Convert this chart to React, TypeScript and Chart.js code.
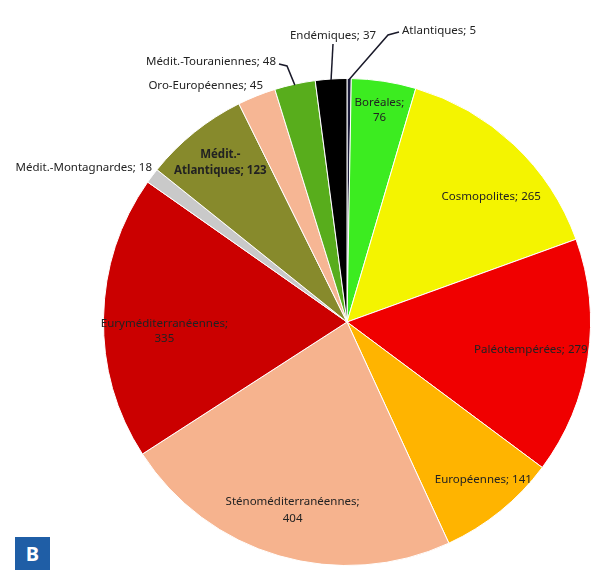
import React, { useEffect, useRef } from "react";
import { Chart, registerables } from "chart.js";

Chart.register(...registerables);

const categories = [
  "Atlantiques",
  "Boréales",
  "Cosmopolites",
  "Paléotempérées",
  "Européennes",
  "Sténoméditerranéennes",
  "Euryméditerranéennes",
  "Médit.-Montagnardes",
  "Médit.-Atlantiques",
  "Oro-Européennes",
  "Médit.-Touraniennes",
  "Endémiques",
];
const values = [5, 76, 265, 279, 141, 404, 335, 18, 123, 45, 48, 37];
const colors = [
  "#1c1c3c",
  "#3cec20",
  "#f4f400",
  "#f00000",
  "#ffb400",
  "#f6b38e",
  "#cb0000",
  "#c9c9c9",
  "#878a2c",
  "#f6b694",
  "#58ad1c",
  "#000000",
];

type Place =
  | { kind: "in"; f: number; lines: string[]; bold?: boolean; dx?: number; dy?: number; lh?: number }
  | { kind: "out"; x: number; y: number; align: CanvasTextAlign; text: string; leader?: number[][] };

const placements: Place[] = [
  { kind: "out", x: 402, y: 31, align: "left", text: "Atlantiques; 5", leader: [[399, 32], [388, 35]] },
  { kind: "in", f: 0.88, lines: ["Boréales;", "76"] },
  { kind: "in", f: 0.78, lines: ["Cosmopolites; 265"], dx: 14, dy: 13 },
  { kind: "in", f: 0.78, lines: ["Paléotempérées; 279"], dx: -4 },
  { kind: "in", f: 0.85, lines: ["Européennes; 141"], dx: 6, dy: -3 },
  { kind: "in", f: 0.8, lines: ["Sténoméditerranéennes;", "404"], lh: 17, dy: 1 },
  { kind: "in", f: 0.75, lines: ["Euryméditerranéennes;", "335"], dy: 13 },
  { kind: "out", x: 152, y: 168, align: "right", text: "Médit.-Montagnardes; 18" },
  { kind: "in", f: 0.83, lines: ["Médit.-", "Atlantiques; 123"], bold: true, lh: 16, dy: -2 },
  { kind: "out", x: 263, y: 86, align: "right", text: "Oro-Européennes; 45" },
  { kind: "out", x: 276, y: 62, align: "right", text: "Médit.-Touraniennes; 48", leader: [[279, 64], [287, 66]] },
  { kind: "out", x: 333, y: 36, align: "center", text: "Endémiques; 37", leader: [[333, 44]] },
];

const FONT = '"Noto Sans", sans-serif';

const labelPlugin = {
  id: "sliceLabels",
  afterDatasetsDraw(chart: any) {
    const ctx = chart.ctx as CanvasRenderingContext2D;
    const meta = chart.getDatasetMeta(0);
    ctx.save();
    meta.data.forEach((arc: any, i: number) => {
      const p = placements[i];
      const { x, y, startAngle, endAngle, outerRadius } = arc.getProps(
        ["x", "y", "startAngle", "endAngle", "outerRadius"],
        true
      );
      const mid = (startAngle + endAngle) / 2;
      ctx.fillStyle = "#222222";
      ctx.textBaseline = "middle";
      if (p.kind === "in") {
        ctx.font = `${p.bold ? "bold " : ""}11.5px ${FONT}`;
        ctx.textAlign = "center";
        const cx = x + Math.cos(mid) * outerRadius * p.f + (p.dx || 0);
        const cy = y + Math.sin(mid) * outerRadius * p.f + (p.dy || 0);
        const lh = p.lh || 15;
        const n = p.lines.length;
        p.lines.forEach((t, k) => {
          ctx.fillText(t, cx, cy + (k - (n - 1) / 2) * lh);
        });
      } else {
        ctx.font = `11.5px ${FONT}`;
        ctx.textAlign = p.align;
        ctx.fillText(p.text, p.x, p.y);
        if (p.leader) {
          const ex = x + Math.cos(mid) * outerRadius;
          const ey = y + Math.sin(mid) * outerRadius;
          ctx.strokeStyle = "#1a1a2a";
          ctx.lineWidth = 1.5;
          ctx.beginPath();
          ctx.moveTo(p.leader[0][0], p.leader[0][1]);
          for (let k = 1; k < p.leader.length; k++) ctx.lineTo(p.leader[k][0], p.leader[k][1]);
          ctx.lineTo(ex, ey + 1);
          ctx.stroke();
        }
      }
    });
    ctx.restore();
  },
};

export default function App() {
  const ref = useRef<HTMLCanvasElement>(null);
  useEffect(() => {
    if (!ref.current) return;
    const chart = new Chart(ref.current, {
      type: "pie",
      data: {
        labels: categories,
        datasets: [
          {
            data: values,
            backgroundColor: colors,
            borderColor: "#ffffff",
            borderWidth: 1,
          },
        ],
      },
      options: {
        responsive: false,
        animation: false,
        rotation: 0,
        layout: { padding: { left: 103, right: 6, top: 78, bottom: 4 } },
        plugins: {
          legend: { display: false },
          tooltip: { enabled: false },
        },
      },
      plugins: [labelPlugin],
    });
    return () => chart.destroy();
  }, []);
  return (
    <div style={{ position: "absolute", left: 0, top: 0, width: 597, height: 570, background: "#fff", overflow: "hidden" }}>
      <canvas ref={ref} width={597} height={570} style={{ display: "block" }} />
      <div
        style={{
          position: "absolute",
          left: 15,
          top: 537,
          width: 35,
          height: 33,
          background: "#1f5ea6",
          color: "#fff",
          fontFamily: FONT,
          fontWeight: "bold",
          fontSize: 20,
          lineHeight: "34px",
          textAlign: "center",
        }}
      >
        B
      </div>
    </div>
  );
}
